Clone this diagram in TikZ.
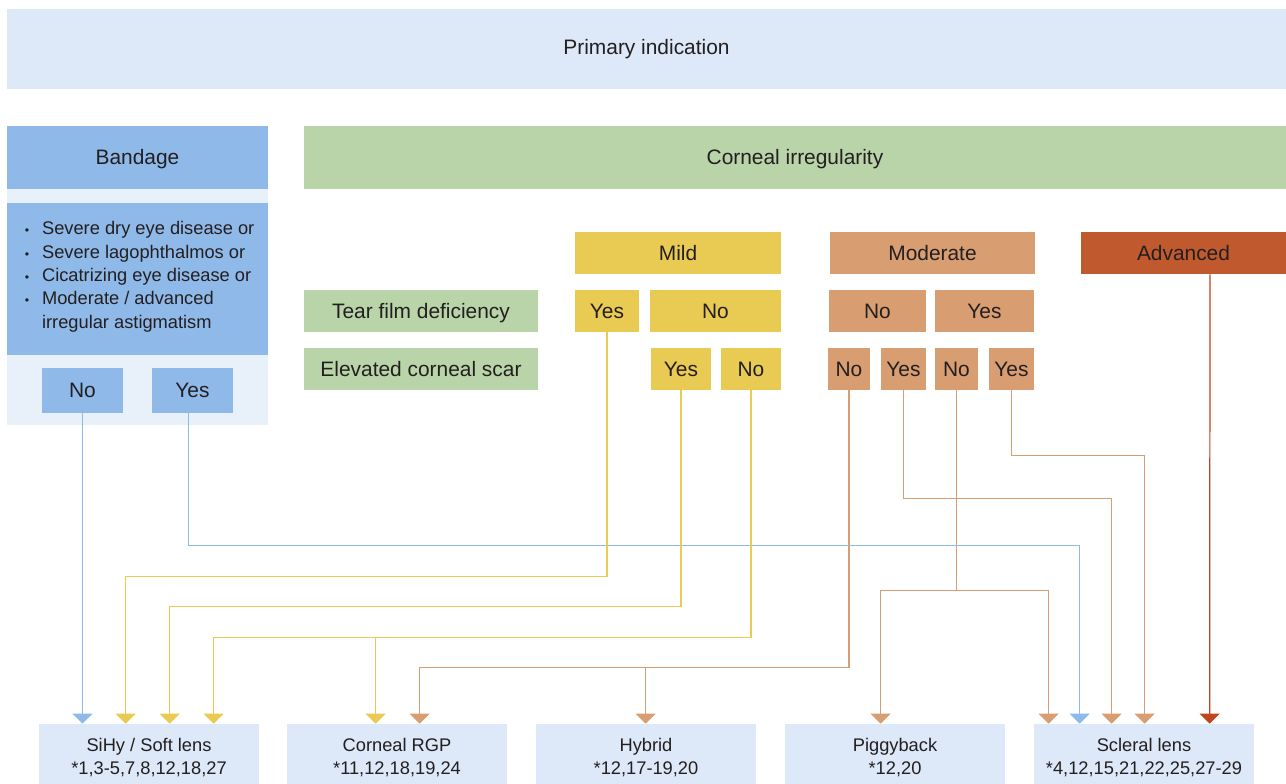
\documentclass[tikz,border=0pt]{standalone}
\usepackage{fontspec}
\setmainfont{Liberation Sans}
\usetikzlibrary{arrows.meta,calc}
\definecolor{primc}{HTML}{DDE8F8}
\definecolor{lightc}{HTML}{E8F0FA}
\definecolor{bluec}{HTML}{8FB9E9}
\definecolor{greenc}{HTML}{B8D4A8}
\definecolor{yellc}{HTML}{E9CA52}
\definecolor{orc}{HTML}{D89D71}
\definecolor{advc}{HTML}{C05A2E}
\definecolor{darkl}{HTML}{C0441E}
\definecolor{txtc}{HTML}{231F20}
\newcommand\bx[7]{\node[box,#6,minimum width={(#4-#2)*0.02cm},minimum height={(#5-#3)*0.02cm}] (#1) at ({(#2+#4)/2},{(#3+#5)/2}) {#7};}
\tikzset{
  box/.style={draw=none,inner sep=0pt,text=txtc,font=\fontsize{11.9}{14}\selectfont,text height=10pt,text depth=1.48pt},
  small/.style={font=\fontsize{10.4}{13.2}\selectfont,align=center,text height=23.4pt,text depth=0pt},
  conn/.style={line width=0.7pt,-{Triangle[width=0.4cm,length=0.2cm]}},
}
\begin{document}
\begin{tikzpicture}[x=0.02cm,y=-0.02cm]
\useasboundingbox (0,0) rectangle (1286,784);
% top
\bx{prim}{7}{9}{1286}{89}{fill=primc,text depth=3.75pt}{Primary indication}
% bandage column
\fill[lightc] (7,189) rectangle (268,425);
\bx{band}{7}{126}{268}{189}{fill=bluec}{Bandage}
\bx{bul}{7}{203}{268}{355}{fill=bluec}{}
\node[anchor=north west,inner sep=0pt,text=txtc,font=\fontsize{10.4}{13.3}\selectfont] (bultxt) at (24.5,218)
 {\begin{tabular}{@{}l@{}}
 \makebox[9.8pt][l]{\scriptsize\textbullet}Severe dry eye disease or\\
 \makebox[9.8pt][l]{\scriptsize\textbullet}Severe lagophthalmos or\\
 \makebox[9.8pt][l]{\scriptsize\textbullet}Cicatrizing eye disease or\\
 \makebox[9.8pt][l]{\scriptsize\textbullet}Moderate / advanced\\
 \makebox[9.8pt][l]{}irregular astigmatism
 \end{tabular}};
\bx{bNo}{42}{368}{123}{413}{fill=bluec}{No}
\bx{bYes}{152}{368}{233}{413}{fill=bluec}{Yes}
% corneal
\bx{corn}{304}{126}{1286}{189}{fill=greenc}{Corneal irregularity}
\bx{mild}{575}{232}{781}{274}{fill=yellc}{Mild}
\bx{mod}{830}{232}{1035}{274}{fill=orc}{Moderate}
\bx{adv}{1081}{232}{1286}{274}{fill=advc}{Advanced}
\bx{tear}{304}{290}{538}{332}{fill=greenc}{Tear film deficiency}
\bx{scar}{304}{348}{538}{390}{fill=greenc}{Elevated corneal scar}
\bx{mYes}{575}{290}{639}{332}{fill=yellc}{Yes}
\bx{mNo}{650}{290}{781}{332}{fill=yellc}{No}
\bx{mnYes}{651}{348}{711}{390}{fill=yellc}{Yes}
\bx{mnNo}{721}{348}{781}{390}{fill=yellc}{No}
\bx{oNo}{829}{290}{926}{332}{fill=orc}{No}
\bx{oYes}{935}{290}{1034}{332}{fill=orc}{Yes}
\bx{onNo}{828}{348}{870}{390}{fill=orc}{No}
\bx{onYes}{881}{348}{926}{390}{fill=orc}{Yes}
\bx{oyNo}{935}{348}{978}{390}{fill=orc}{No}
\bx{oyYes}{989}{348}{1034}{390}{fill=orc}{Yes}
% bottom
\bx{sihy}{39}{724}{259}{784}{fill=primc,small}{SiHy / Soft lens\\*1,3-5,7,8,12,18,27}
\bx{rgp}{287}{724}{507}{784}{fill=primc,small}{Corneal RGP\\*11,12,18,19,24}
\bx{hyb}{536}{724}{756}{784}{fill=primc,small}{Hybrid\\*12,17-19,20}
\bx{pig}{785}{724}{1005}{784}{fill=primc,small}{Piggyback\\*12,20}
\bx{scl}{1034}{724}{1254}{784}{fill=primc,small}{Scleral lens\\*4,12,15,21,22,25,27-29}
% targets
\coordinate (s1) at ($(sihy.north west)+(43,0)$);
\coordinate (s2) at ($(sihy.north west)+(87,0)$);
\coordinate (s3) at ($(sihy.north west)+(131,0)$);
\coordinate (s4) at ($(sihy.north west)+(175,0)$);
\coordinate (r1) at ($(rgp.north west)+(89,0)$);
\coordinate (r2) at ($(rgp.north west)+(133,0)$);
\coordinate (h1) at ($(hyb.north west)+(110,0)$);
\coordinate (p1) at ($(pig.north west)+(96,0)$);
\coordinate (c1) at ($(scl.north west)+(15,0)$);
\coordinate (c2) at ($(scl.north west)+(46,0)$);
\coordinate (c3) at ($(scl.north west)+(78,0)$);
\coordinate (c4) at ($(scl.north west)+(111,0)$);
\coordinate (c5) at ($(scl.north west)+(176,0)$);
\coordinate (bYesOut) at ($(bYes.south)+(-4,0)$);
\coordinate (advOut) at ($(adv.south)+(26.5,0)$);
% connectors
\draw[conn,orc] (onNo.south) -- ++(0,277) coordinate (j2) -| (r2);
\draw[conn,orc] (j2 -| h1) -- (h1);
\draw[conn,orc] (onYes.south) -- ++(0,108) -| (c3);
\draw[conn,orc] (oyNo.south) -- ++(0,200) coordinate (j3) -| (p1);
\draw[conn,orc] (j3) -| (c1);
\draw[conn,orc] (oyYes.south) -- ++(0,65) -| (c4);
\draw[conn,bluec] (bNo.south) -- (bNo.south |- s1);
\draw[conn,bluec] (bYesOut) -- ++(0,132) -| (c2);
\draw[conn,yellc] (mYes.south) -- ++(0,244) -| (s2);
\draw[conn,yellc] (mnYes.south) -- ++(0,216) -| (s3);
\draw[conn,yellc] (mnNo.south) -- ++(0,247) coordinate (j1) -| (s4);
\draw[conn,yellc] (j1 -| r1) -- (r1);
\draw[conn,darkl] (advOut) -- (c5);
\end{tikzpicture}
\end{document}
